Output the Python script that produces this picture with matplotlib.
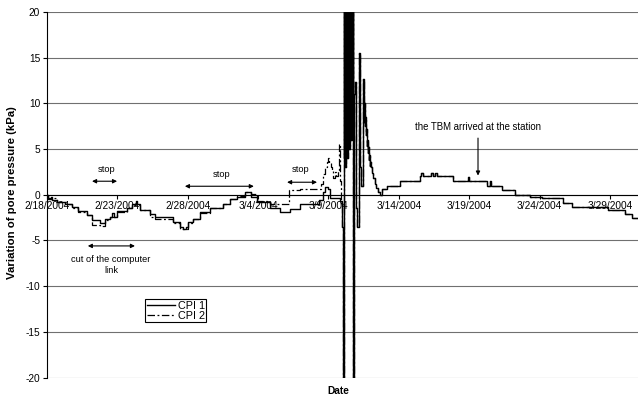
import datetime as dt

import matplotlib
matplotlib.use("Agg")
import matplotlib.dates as mdates
import matplotlib.pyplot as plt

plt.rcParams['font.family'] = ['Liberation Sans', 'DejaVu Sans']
plt.rcParams['axes.unicode_minus'] = False

start = dt.datetime(2004, 2, 18)
end = dt.datetime(2004, 3, 31)
tick_labels = ["2/18/2004", "2/23/2004", "2/28/2004", "3/4/2004", "3/9/2004",
               "3/14/2004", "3/19/2004", "3/24/2004", "3/29/2004"]
y_ticks = [-20, -15, -10, -5, 0, 5, 10, 15, 20]

# days after 2/18/2004 -> variation of pore pressure (kPa)
cpi1_days = [0.0, 0.07, 0.25, 0.35, 0.7, 1.3, 1.8, 2.2, 2.85, 3.2, 3.75, 4.1,
             4.5, 4.65, 4.75, 5.0, 5.7, 6.05, 6.3, 6.4, 6.6, 7.3, 7.7, 8.95,
             9.45, 9.7, 9.85, 10.0, 10.4, 10.9, 11.6, 12.5, 13.0, 13.5, 14.1,
             14.5, 14.9, 15.85, 16.55, 17.25, 18.0, 19.35, 19.6, 19.75, 19.95,
             20.1, 20.8]
cpi1_kpa = [0.0, -0.5, -0.2, -0.6, -0.8, -1.0, -1.3, -1.8, -2.2, -2.8, -3.1,
            -2.6, -2.4, -2.0, -2.4, -1.8, -1.5, -1.0, -0.7, -1.0, -1.7, -2.1,
            -2.4, -3.0, -3.5, -3.8, -3.5, -3.0, -2.6, -1.9, -1.5, -1.0, -0.5,
            -0.2, 0.3, -0.2, -0.8, -1.5, -1.9, -1.6, -1.0, -0.6, 0.3, 0.8,
            0.6, -0.4, -0.7]

cpi2_days = [0.0, 0.07, 0.7, 1.3, 1.8, 2.2, 2.85, 3.2, 3.75, 4.1, 4.5, 5.0,
             5.7, 6.05, 6.6, 7.3, 7.7, 8.95, 9.45, 10.0, 10.4, 10.9, 11.6,
             12.5, 13.0, 13.5, 14.1, 14.5, 14.9, 15.85, 17.2, 18.0, 19.3,
             19.45, 19.6, 19.75, 19.9, 19.97, 20.05, 20.15, 20.25, 20.35,
             20.45, 20.55, 20.65, 20.75, 20.82, 20.9]
cpi2_kpa = [0.0, -0.4, -0.8, -1.0, -1.4, -1.9, -2.2, -3.3, -3.4, -2.8, -2.4,
            -1.9, -1.5, -1.1, -1.7, -2.4, -2.6, -3.1, -3.7, -3.1, -2.6, -2.0,
            -1.5, -1.0, -0.5, -0.1, 0.3, 0.1, -0.7, -1.0, 0.5, 0.6, 0.6, 1.2,
            2.3, 3.0, 3.6, 4.0, 3.5, 3.0, 2.6, 1.8, 2.5, 2.0, 2.6, 5.5, 1.5,
            -1.0]

# arrival of the face: both cells swing off scale, then decay
spike_days = [20.95, 21.0, 21.04, 21.08, 21.11, 21.15, 21.18, 21.22, 21.25,
              21.29, 21.32, 21.36, 21.39, 21.43, 21.46, 21.5, 21.54, 21.57,
              21.61, 21.65, 21.68, 21.72, 21.78, 21.83, 21.88, 21.97, 22.06,
              22.17, 22.24, 22.33, 22.46, 22.5, 22.53, 22.57, 22.6, 22.64,
              22.67, 22.71, 22.74, 22.78, 22.81, 22.85, 22.88, 22.92, 22.95,
              23.02, 23.1, 23.2, 23.3, 23.4, 23.5]
spike_kpa = [-3.5, -22, -22, 25, 4, 25, 3, 25, 5, 25, 4, 25, 6, 25, 5, 25,
             7, 25, 6, 25, 8, 25, -25, 11, 12.3, -1.5, -3.5, 15.5, 3, 1, 12.7,
             8, 10, 7.5, 8.5, 6.5, 7.2, 5.3, 6, 4.6, 5.2, 3.8, 4.3, 3.2, 3.6,
             3.0, 2.4, 1.8, 1.2, 0.7, 0.3]

tail_days = [23.67, 23.8, 24.16, 25.09, 26.5, 26.6, 26.7, 27.3, 27.45, 27.6,
             27.75, 28.86, 29.9, 30.0, 31.27, 31.45, 31.55, 32.34, 33.26,
             34.33, 35.18, 36.67, 37.31, 39.87, 41.08, 41.58, 42.0]
tail_kpa = [0.0, 0.6, 1.0, 1.5, 2.0, 2.4, 2.0, 2.4, 2.0, 2.4, 2.0, 1.5, 1.9,
            1.5, 1.0, 1.5, 1.0, 0.5, 0.0, -0.3, -0.4, -0.9, -1.3, -1.7, -2.1,
            -2.5, -2.5]


def to_dates(days):
    t0 = mdates.date2num(start)
    return [t0 + d for d in days]


fig = plt.figure(figsize=(6.38, 4.01), dpi=100)
ax = fig.add_axes([47 / 638, 1 - 377.5 / 401, 591 / 638, 365.5 / 401])

x1 = to_dates(cpi1_days + spike_days + tail_days)
y1 = cpi1_kpa + spike_kpa + tail_kpa
x2 = to_dates(cpi2_days + spike_days + tail_days)
y2 = cpi2_kpa + spike_kpa + tail_kpa

ax.plot(x2, y2, color='k', lw=0.9, ls=(0, (6, 2, 1.5, 2)),
        drawstyle='steps-post', label='CPI 2', zorder=3)
ax.plot(x1, y1, color='k', lw=1.0, drawstyle='steps-post',
        label='CPI 1', zorder=4)

ax.set_xlim(mdates.date2num(start), mdates.date2num(end))
ax.set_ylim(-20, 20)

for s in ['top', 'right']:
    ax.spines[s].set_visible(False)
ax.spines['bottom'].set_position(('data', 0))
ax.spines['bottom'].set_linewidth(0.8)
ax.spines['left'].set_linewidth(0.8)

ax.set_yticks(y_ticks)
ax.set_yticklabels([str(v) for v in y_ticks])
ax.set_xticks([mdates.date2num(dt.datetime.strptime(s, "%m/%d/%Y"))
               for s in tick_labels])
ax.set_xticklabels(tick_labels)
ax.tick_params(axis='y', direction='out', length=3, width=0.8, pad=2,
               labelsize=7.3)
ax.tick_params(axis='x', direction='out', length=3, width=0.8, pad=1.5,
               labelsize=7.3)
ax.yaxis.grid(True, color='#707070', lw=0.8)
ax.set_axisbelow(True)

# annotations
arrow2 = dict(arrowstyle='<|-|>', color='k', lw=0.8, mutation_scale=6,
              shrinkA=0, shrinkB=0)
arrow1 = dict(arrowstyle='-|>', color='k', lw=0.8, mutation_scale=6,
              shrinkA=0, shrinkB=0)
t0 = mdates.date2num(start)
ax.annotate('', xy=(t0 + 3.2, 1.48), xytext=(t0 + 4.98, 1.48), arrowprops=arrow2)
ax.text(t0 + 4.2, 2.8, 'stop', ha='center', va='center', fontsize=6.7)
ax.annotate('', xy=(t0 + 9.8, 0.93), xytext=(t0 + 14.7, 0.93), arrowprops=arrow2)
ax.text(t0 + 12.4, 2.25, 'stop', ha='center', va='center', fontsize=6.7)
ax.annotate('', xy=(t0 + 17.06, 1.37), xytext=(t0 + 19.19, 1.37), arrowprops=arrow2)
ax.text(t0 + 18.05, 2.8, 'stop', ha='center', va='center', fontsize=6.7)
ax.annotate('', xy=(t0 + 2.9, -5.6), xytext=(t0 + 6.25, -5.6), arrowprops=arrow2)
ax.text(t0 + 4.55, -6.6, 'cut of the computer\nlink', ha='center', va='top',
        fontsize=6.7, linespacing=1.3)
ax.annotate('', xy=(t0 + 30.63, 2.1), xytext=(t0 + 30.63, 6.2), arrowprops=arrow1)
ax.text(t0 + 30.6, 7.4, 'the TBM arrived at the station', ha='center',
        va='center', fontsize=6.9)

leg = ax.legend(handles=ax.get_lines()[::-1], loc='upper left',
                bbox_to_anchor=(145 / 638, 1 - 299 / 401),
                bbox_transform=fig.transFigure, fancybox=False, edgecolor='k',
                framealpha=1, fontsize=7.8, handlelength=2.6, handletextpad=0.25,
                labelspacing=0.0, borderpad=0.15, borderaxespad=0)
leg.get_frame().set_linewidth(0.8)

fig.text(12 / 638, 1 - 193 / 401, 'Variation of pore pressure (kPa)',
         rotation=90, ha='center', va='center', fontsize=8.2, fontweight='bold')
fig.text(338 / 638, 1 - 391 / 401, 'Date', ha='center', va='center',
         fontsize=7.3, fontweight='bold')

fig.savefig('out.png', dpi=100)
